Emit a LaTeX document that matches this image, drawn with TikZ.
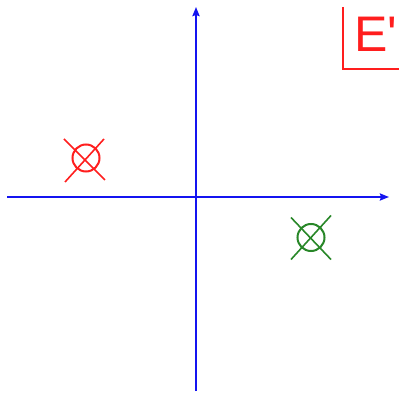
\documentclass[tikz,border=0pt]{standalone}
\usepackage{fontspec}
\setmainfont{Liberation Sans}
\newfontfamily\lblfont{Liberation Sans}
\usetikzlibrary{arrows.meta,calc}
\definecolor{ax}{RGB}{20,20,240}
\definecolor{mred}{RGB}{255,30,30}
\definecolor{mgreen}{RGB}{40,135,40}
\begin{document}
\begin{tikzpicture}[x=1pt,y=-1pt,
  axis/.style={ax,line width=2pt,-{Stealth[length=9pt,width=7pt,inset=1pt]}},
  marker/.style={circle,draw,line width=2pt,minimum size=27pt,inner sep=0pt},
  crossline/.style={line width=1.6pt},
  lbl/.style={anchor=base west,inner sep=0pt,font=\lblfont\fontsize{50}{50}\selectfont}]
\useasboundingbox (0,0) rectangle (399,395);
\fill[white] (0,0) rectangle (399,395);
\coordinate (xs) at (7,197);
\coordinate (xe) at (389,197);
\coordinate (ys) at (196,391);
\coordinate (ye) at (196,7);
\draw[axis] (xs) -- (xe);
\draw[axis] (ys) -- (ye);
\node[marker,mred] (r) at (86,158) {};
\draw[crossline,mred] ($(r)+(-22,-19)$) -- ($(r)+(19,22)$);
\draw[crossline,mred] ($(r)+(18,-19)$) -- ($(r)+(-21,24)$);
\node[marker,mgreen] (g) at (311,237.5) {};
\draw[crossline,mgreen] ($(g)+(-20,-20)$) -- ($(g)+(20,22)$);
\draw[crossline,mgreen] ($(g)+(20,-22)$) -- ($(g)+(-20,22)$);
\coordinate (b1) at (343,7);
\coordinate (b2) at (343,69);
\coordinate (b3) at (400,69);
\draw[mred,line width=1.5pt] (b1) -- (b2) -- (b3);
\node[lbl,text=mred] (e) at (354,52) {E'};
\end{tikzpicture}
\end{document}
